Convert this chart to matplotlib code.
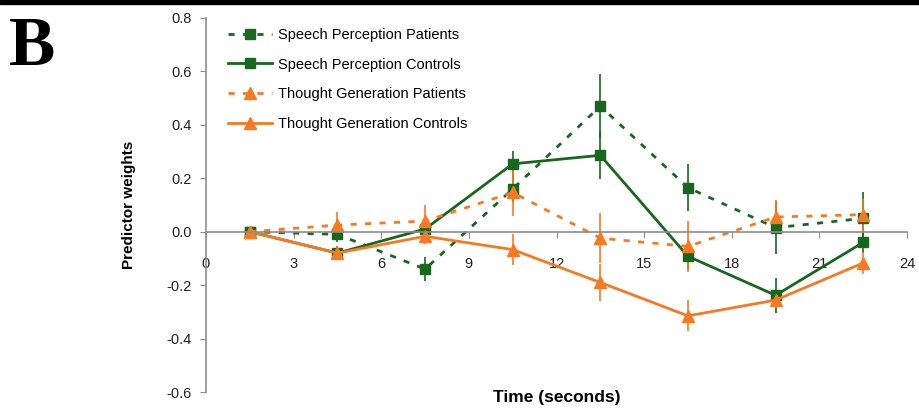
import matplotlib
matplotlib.use("Agg")
import matplotlib.pyplot as plt
from matplotlib.patches import Rectangle
from matplotlib.lines import Line2D

plt.rcParams['font.family'] = ['Liberation Sans', 'DejaVu Sans']

time_s = [1.5, 4.5, 7.5, 10.5, 13.5, 16.5, 19.5, 22.5]

sp_patients = [0.0, -0.01, -0.14, 0.16, 0.47, 0.165, 0.015, 0.05]
sp_patients_err = [0.0, 0.03, 0.045, 0.05, 0.12, 0.087, 0.10, 0.10]

sp_controls = [0.0, -0.08, 0.01, 0.254, 0.286, -0.092, -0.238, -0.04]
sp_controls_err = [0.0, 0.025, 0.03, 0.05, 0.09, 0.05, 0.065, 0.04]

tg_patients = [0.0, 0.025, 0.04, 0.147, -0.024, -0.055, 0.055, 0.064]
tg_patients_err = [0.0, 0.05, 0.06, 0.09, 0.094, 0.094, 0.065, 0.06]

tg_controls = [0.0, -0.08, -0.017, -0.067, -0.19, -0.315, -0.256, -0.117]
tg_controls_err = [0.0, 0.025, 0.03, 0.057, 0.07, 0.058, 0.03, 0.04]

labels = ["Speech Perception Patients", "Speech Perception Controls",
          "Thought Generation Patients", "Thought Generation Controls"]
xticks = [0, 3, 6, 9, 12, 15, 18, 21, 24]
yticks = [-0.6, -0.4, -0.2, 0.0, 0.2, 0.4, 0.6, 0.8]

green = '#17671f'
orange = '#f77a22'

fig = plt.figure(figsize=(9.19, 4.15), dpi=100)
ax = fig.add_axes([206/919, 1-392/415, (907-206)/919, (392-18)/415])

dash = (0, (2.2, 3.0))
series = [
    (sp_patients, sp_patients_err, green, dash, 's', 6.5),
    (sp_controls, sp_controls_err, green, '-', 's', 6.5),
    (tg_patients, tg_patients_err, orange, dash, '^', 8.5),
    (tg_controls, tg_controls_err, orange, '-', '^', 8.5),
]
handles = []
for (vals, errs, col, ls, mk, ms), lab in zip(series, labels):
    ax.errorbar(time_s, vals, yerr=errs, color=col, ecolor=col, elinewidth=1.2,
                capsize=0, linestyle=ls, linewidth=2.0, marker=mk,
                markersize=ms, markeredgecolor=col, markerfacecolor=col)
    handles.append(Line2D([], [], color=col, linestyle=ls, linewidth=2.0, marker=mk,
                          markersize=ms, markeredgecolor=col, markerfacecolor=col))

ax.set_xlim(0, 24)
ax.set_ylim(-0.6, 0.8)
ax.set_xticks(xticks)
ax.set_xticklabels([str(t) for t in xticks])
ax.set_yticks(yticks)
ax.set_yticklabels([f"{t:.1f}" for t in yticks])

for s in ['top', 'right']:
    ax.spines[s].set_visible(False)
ax.spines['bottom'].set_position(('data', 0))
ax.spines['left'].set_color('#8c8c8c')
ax.spines['bottom'].set_color('#8c8c8c')
ax.spines['left'].set_linewidth(1.2)
ax.spines['bottom'].set_linewidth(1.2)
ax.tick_params(axis='y', direction='out', length=4, color='#8c8c8c', labelsize=10.5,
               labelcolor='#222222', pad=6)
ax.tick_params(axis='x', direction='out', length=4, color='#8c8c8c', labelsize=10.5,
               labelcolor='#222222', pad=14)

ax.set_ylabel("Predictor weights", fontsize=11, fontweight='bold', labelpad=22)
ax.set_xlabel("Time (seconds)", fontsize=12.5, fontweight='bold')
ax.xaxis.set_label_coords(0.500, 0.006)

ax.legend(handles, labels, loc='upper left', bbox_to_anchor=(0.017, 1.001), frameon=False,
          fontsize=10.5, handlelength=3.0, labelspacing=1.08, borderaxespad=0.3,
          handletextpad=0.4)

fig.text(9/919, 1-65/415, "B", fontsize=50, fontweight='bold',
         family=['Liberation Serif', 'DejaVu Serif'], ha='left', va='baseline')
fig.add_artist(Rectangle((0, 1-4.5/415), 1, 4.5/415, transform=fig.transFigure,
                         color='black', zorder=10))

fig.savefig("out.png", dpi=100)
